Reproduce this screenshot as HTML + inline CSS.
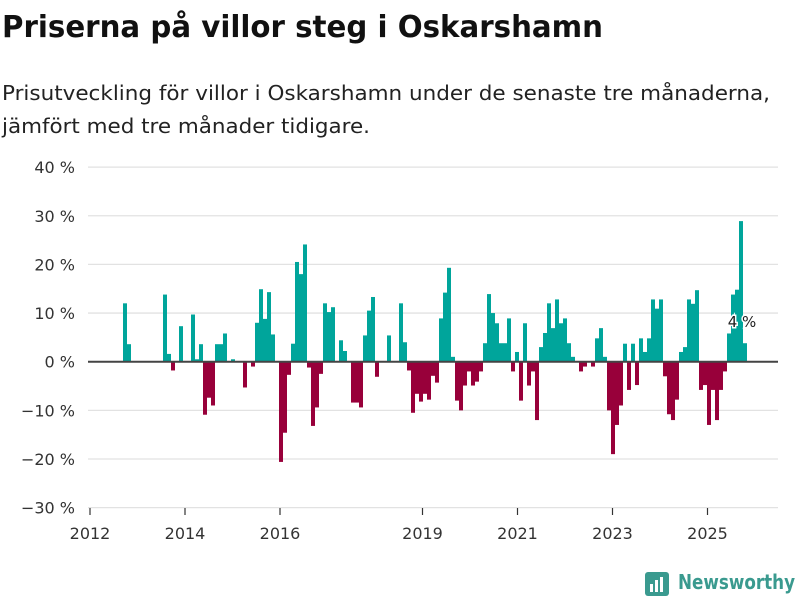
<!DOCTYPE html>
<html><head><meta charset="utf-8">
<style>
html,body{margin:0;padding:0;background:#fff;}
svg{display:block;font-family:"DejaVu Sans","Liberation Sans",sans-serif;}
</style></head>
<body>
<svg id="chart" width="800" height="600" viewBox="0 0 800 600">
  <text x="2" y="37" font-size="30" font-weight="bold" fill="#111" textLength="601" lengthAdjust="spacingAndGlyphs">Priserna på villor steg i Oskarshamn</text>
  <text x="2" y="100" font-size="20" fill="#222" textLength="768" lengthAdjust="spacingAndGlyphs">Prisutveckling för villor i Oskarshamn under de senaste tre månaderna,</text>
  <text x="2" y="133" font-size="20" fill="#222" textLength="368" lengthAdjust="spacingAndGlyphs">jämfört med tre månader tidigare.</text>
  <g id="grid"></g>
  <g id="bars"></g>
  <g id="axes"></g>
  <g>
    <rect x="645" y="572" width="24" height="24" rx="3" fill="#3a9a8f"/>
    <rect x="650" y="584" width="3" height="8" fill="#fff"/>
    <rect x="655" y="580" width="3" height="12" fill="#fff"/>
    <rect x="660" y="577" width="3" height="15" fill="#fff"/>
    <text x="678" y="589" font-size="20" font-weight="bold" fill="#3a9a8f" textLength="117" lengthAdjust="spacingAndGlyphs">Newsworthy</text>
  </g>
</svg>
<script>
const values = [
0,0,0,0,0,0,0,0,12.0,3.6,
0,0,0,0,0,0,0,0,13.8,1.6,
-1.8,0,7.3,0,0,9.7,0.5,3.6,-10.9,-7.4,
-9.0,3.6,3.6,5.8,0,0.5,0,0,-5.3,0,
-1.0,8.0,14.9,8.8,14.3,5.6,0,-20.6,-14.6,-2.7,
3.7,20.5,18.0,24.1,-1.2,-13.2,-9.4,-2.5,12.0,10.2,
11.2,0,4.4,2.2,0,-8.4,-8.4,-9.4,5.4,10.5,
13.3,-3.1,0,0,5.4,0,0,12.0,4.0,-1.8,
-10.5,-6.6,-8.2,-6.6,-7.8,-2.9,-4.3,8.9,14.2,19.3,
1.0,-8.0,-10.0,-4.9,-2.0,-4.9,-4.1,-2.0,3.8,13.9,
10.0,7.9,3.8,3.8,8.9,-2.0,2.0,-8.0,7.9,-4.9,
-2.0,-12.0,3.0,5.9,12.0,6.9,12.8,7.9,8.9,3.8,
1.0,0,-2.0,-1.0,0,-1.0,4.8,6.9,1.0,-10.0,
-19.0,-13.0,-9.0,3.7,-5.8,3.7,-4.8,4.8,2.0,4.8,
12.8,10.9,12.8,-3.0,-10.8,-12.0,-7.8,2.0,3.0,12.8,
11.9,14.7,-5.8,-4.8,-13.0,-5.8,-12.0,-5.8,-2.0,5.8,
13.8,14.8,28.9,3.8
];
const yTicks = [40,30,20,10,0,-10,-20,-30];
const yTickLabels = ["40 %","30 %","20 %","10 %","0 %","−10 %","−20 %","−30 %"];
const xTickYears = [2012,2014,2016,2019,2021,2023,2025];
const lastLabel = "4 %";

const NS = "http://www.w3.org/2000/svg";
function y(v){ return 361.7 - v*4.865; }
function xBar(i){ return 91 + i*4; }
function xYear(yr){ return 90 + (yr-2012)*47.5; }
function mk(tag, attrs, parent){
  const e = document.createElementNS(NS, tag);
  for (const k in attrs) e.setAttribute(k, attrs[k]);
  parent.appendChild(e);
  return e;
}
const grid = document.getElementById('grid');
const bars = document.getElementById('bars');
const axes = document.getElementById('axes');

yTicks.forEach((t, i) => {
  if (t !== 0) {
    const l = mk('line', {x1:88, x2:778, y1:y(t), y2:y(t), stroke:'#e2e2e2', 'stroke-width':1.3}, grid);
    
    
  }
  const tx = mk('text', {x:75, y:y(t)+6, 'font-size':16, fill:'#333', 'text-anchor':'end'}, axes);
  tx.textContent = yTickLabels[i];
  
  
});

values.forEach((v, i) => {
  if (v === 0) return;
  const r = mk('rect', {x:xBar(i), width:4, y:Math.min(y(v), y(0)), height:Math.abs(y(v)-y(0)), fill: v > 0 ? '#00a59b' : '#98003a'}, bars);
  
  
});

const zl = mk('line', {x1:88, x2:778, y1:y(0), y2:y(0), stroke:'#444', 'stroke-width':2}, axes);



xTickYears.forEach(yr => {
  const tl = mk('line', {x1:xYear(yr), x2:xYear(yr), y1:508, y2:515, stroke:'#333', 'stroke-width':1.2}, axes);
  
  
  const tx = mk('text', {x:xYear(yr), y:539, 'font-size':16, fill:'#333', 'text-anchor':'middle'}, axes);
  tx.textContent = yr;
  
  
});

const li = values.length - 1;
const lab = mk('text', {x:xBar(li)-1, y:y(values[li])-16, 'font-size':15, fill:'#222', 'text-anchor':'middle', stroke:'#fff', 'stroke-width':3, 'paint-order':'stroke'}, axes);
lab.textContent = lastLabel;


</script>
</body></html>
